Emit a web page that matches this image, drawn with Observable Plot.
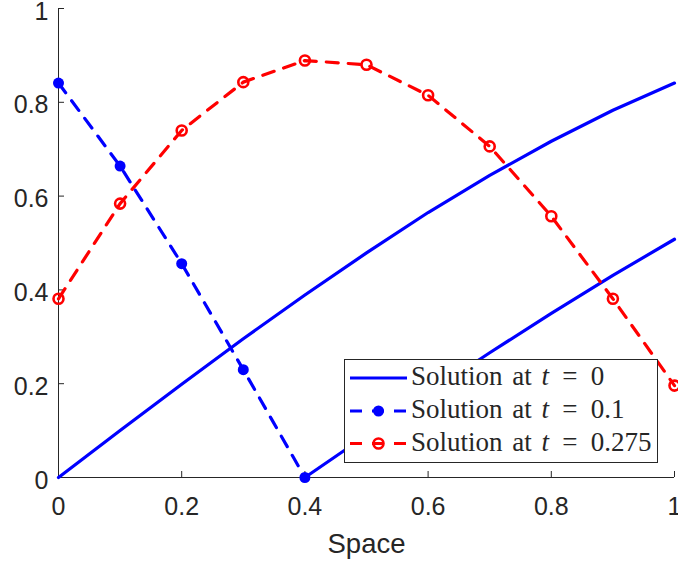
<!DOCTYPE html>
<html><head><meta charset="utf-8">
<script src="https://cdn.jsdelivr.net/npm/d3@7"></script>
<script src="https://cdn.jsdelivr.net/npm/@observablehq/plot@0.6"></script>
<style>
html,body{margin:0;padding:0;background:#fff;}
</style></head><body><div id="chart"></div>
<script>
// ---- data ----
const space = [0, 0.1, 0.2, 0.3, 0.4, 0.5, 0.6, 0.7, 0.8, 0.9, 1];
const solT0 = [0, 0.100, 0.199, 0.296, 0.389, 0.479, 0.565, 0.644, 0.717, 0.783, 0.841];
const spaceT0b = [0.4, 0.5, 0.6, 0.7, 0.8, 0.9, 1];
const solT0b = [0, 0.090, 0.179, 0.266, 0.350, 0.431, 0.508];
const spaceT01 = [0, 0.1, 0.2, 0.3, 0.4];
const solT01 = [0.841, 0.664, 0.456, 0.230, 0];
const solT0275 = [0.381, 0.584, 0.740, 0.843, 0.889, 0.880, 0.815, 0.706, 0.557, 0.381, 0.196];
const xTicks = [0, 0.2, 0.4, 0.6, 0.8, 1];
const yTicks = [0, 0.2, 0.4, 0.6, 0.8, 1];
const xLabel = "Space";
const legendTimes = ["0", "0.1", "0.275"];

const axisColor = "#262626";
const blue = "#0000ff", red = "#ff0000";
const dash = "12,10";
const lw = 3.2;

const t0a = space.map((x, i) => ({x, y: solT0[i]}));
const t0b = spaceT0b.map((x, i) => ({x, y: solT0b[i]}));
const t01 = spaceT01.map((x, i) => ({x, y: solT01[i]}));
const t0275 = space.map((x, i) => ({x, y: solT0275[i]}));
const fmt = d3.format("~g");

const chart = Plot.plot({
  width: 678, height: 567,
  marginLeft: 58, marginRight: 4, marginTop: 8, marginBottom: 90,
  x: {domain: [0, 1], label: null},
  y: {domain: [0, 1], label: null},
  style: {fontFamily: "'Liberation Sans', Arial, sans-serif", fontSize: "25px", color: axisColor, background: "white", overflow: "visible"},
  marks: [
    Plot.ruleX([0], {stroke: axisColor, strokeWidth: 1}),
    Plot.ruleY([0], {stroke: axisColor, strokeWidth: 1}),
    Plot.axisX(xTicks, {tickSize: 6, dy: -6, tickFormat: () => "", stroke: axisColor}),
    Plot.axisX(xTicks, {tickSize: 0, tickPadding: 20, tickFormat: fmt, fill: axisColor, fontSize: 25}),
    Plot.axisY(yTicks, {tickSize: 6, dx: 6, tickFormat: () => "", stroke: axisColor}),
    Plot.axisY(yTicks, {tickSize: 0, tickPadding: 10, tickFormat: fmt, fill: axisColor, fontSize: 25, dy: 3}),
    Plot.text([xLabel], {text: d => d, frameAnchor: "bottom", lineAnchor: "top", dy: 56, fontSize: 27.5, fill: axisColor}),
    Plot.line(t0a, {x: "x", y: "y", stroke: blue, strokeWidth: lw}),
    Plot.line(t0b, {x: "x", y: "y", stroke: blue, strokeWidth: lw}),
    Plot.line(t0275, {x: "x", y: "y", stroke: red, strokeWidth: lw, strokeDasharray: dash}),
    Plot.dot(t0275, {x: "x", y: "y", r: 5, stroke: red, strokeWidth: 2.6, fill: "none"}),
    Plot.line(t01, {x: "x", y: "y", stroke: blue, strokeWidth: lw, strokeDasharray: dash}),
    Plot.dot(t01, {x: "x", y: "y", r: 5.5, fill: blue, stroke: "none"})
  ]
});
document.getElementById("chart").appendChild(chart);

// ---- legend (inside the axes, lower right) ----
const svg = d3.select(chart);
const lg = svg.append("g").attr("text-anchor", "start");
lg.append("rect").attr("x", 344.5).attr("y", 359.5).attr("width", 313).attr("height", 103)
  .attr("fill", "white").attr("stroke", axisColor).attr("stroke-width", 1);
const rows = [
  {y: 378, color: blue, dash: null, marker: null},
  {y: 411, color: blue, dash: dash, marker: "filled"},
  {y: 443.5, color: red, dash: dash, marker: "open"}
];
rows.forEach((r, i) => {
  const line = lg.append("line").attr("x1", 350).attr("x2", 407).attr("y1", r.y).attr("y2", r.y)
    .attr("stroke", r.color).attr("stroke-width", lw);
  if (r.dash) line.attr("stroke-dasharray", r.dash);
  if (r.marker === "filled") lg.append("circle").attr("cx", 378.5).attr("cy", r.y).attr("r", 5.5).attr("fill", r.color);
  if (r.marker === "open") lg.append("circle").attr("cx", 378.5).attr("cy", r.y).attr("r", 5).attr("fill", "none").attr("stroke", r.color).attr("stroke-width", 2.6);
  const t = lg.append("text").attr("x", 411).attr("y", r.y + 7).attr("text-anchor", "start")
    .attr("font-family", "'Liberation Serif', 'DejaVu Serif', serif").attr("font-size", 27)
    .attr("word-spacing", 3).attr("fill", axisColor);
  t.append("tspan").text("Solution at ");
  t.append("tspan").attr("font-style", "italic").text("t");
  t.append("tspan").attr("dx", 3.5).text(" =");
  t.append("tspan").attr("dx", 3.5).text(" " + legendTimes[i]);
});
</script></body></html>
